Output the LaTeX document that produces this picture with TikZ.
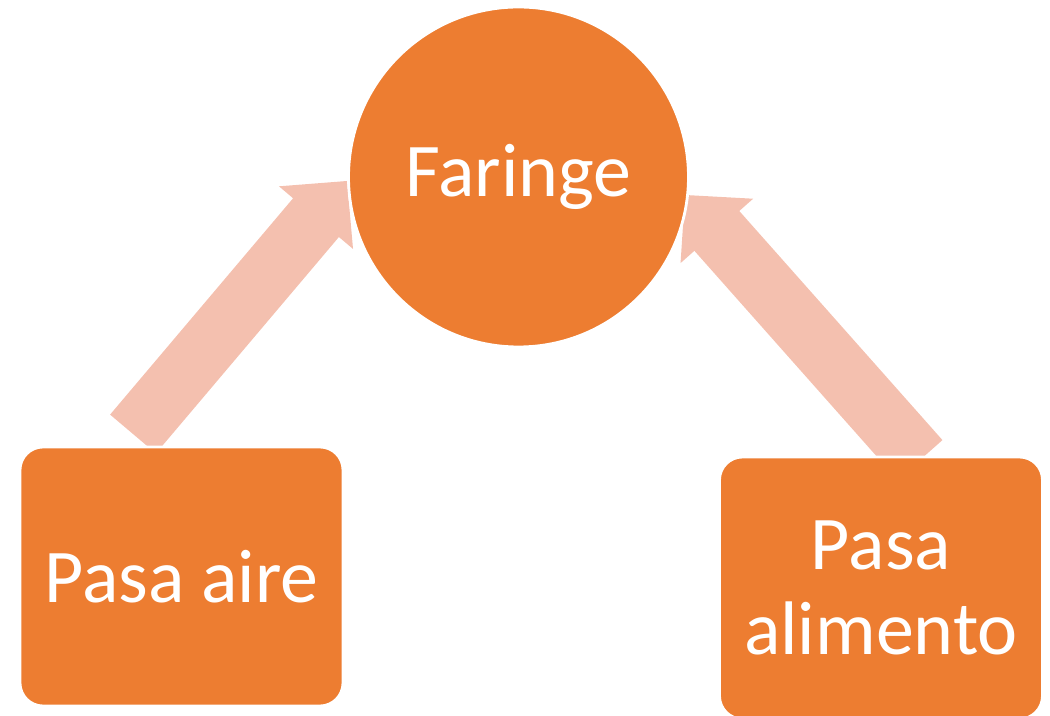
\documentclass[tikz,border=0pt]{standalone}
\usepackage{fontspec}
\setmainfont{Carlito}
\usepackage{tikz}
\usetikzlibrary{calc}

\definecolor{smorange}{HTML}{ED7D31}
\definecolor{smpeach}{HTML}{F4C0AF}

\tikzset{
  topic/.style={circle, fill=smorange, draw=white, line width=0.8pt, text=white,
    minimum size=3.4cm, inner sep=0pt, font=\fontsize{21.6}{24.2}\selectfont},
  leaf/.style={rectangle, rounded corners=0.23cm, fill=smorange, draw=white, line width=0.8pt,
    text=white, minimum width=3.23cm, minimum height=2.59cm, align=center,
    font=\fontsize{21.6}{24.2}\selectfont}
}

\begin{document}
\begin{tikzpicture}
    \useasboundingbox (0,0) rectangle (10.5,7.16);
    % tails and tips of the two fat arrows
    \coordinate (airT) at (1.33,2.82);
    \coordinate (airH) at (3.47,5.35);
    \coordinate (foodT) at (9.20,2.56);
    \coordinate (foodH) at (6.85,5.21);
    % fat arrows: shaft 0.6cm wide, head 0.97cm wide and 0.48cm long
    \foreach \t/\h in {airT/airH, foodT/foodH} {
        \coordinate (N) at ($(\h)!0.48cm!(\t)$);
        \fill[smpeach] ($(\t)!0.3cm!90:(\h)$) -- ($(N)!0.3cm!90:(\h)$) -- ($(N)!0.485cm!90:(\h)$) -- (\h)
            -- ($(N)!0.485cm!-90:(\h)$) -- ($(N)!0.3cm!-90:(\h)$) -- ($(\t)!0.3cm!-90:(\h)$) -- cycle;
    }
    % circle and boxes on top
    \node[topic] (far) at (5.185,5.39) {\raisebox{-0.04cm}{Faringe}};
    \node[leaf] (air) at (1.815,1.395) {Pasa aire};
    \node[leaf, minimum height=2.62cm] (food) at (8.81,1.28) {Pasa\\alimento};
\end{tikzpicture}
\end{document}
